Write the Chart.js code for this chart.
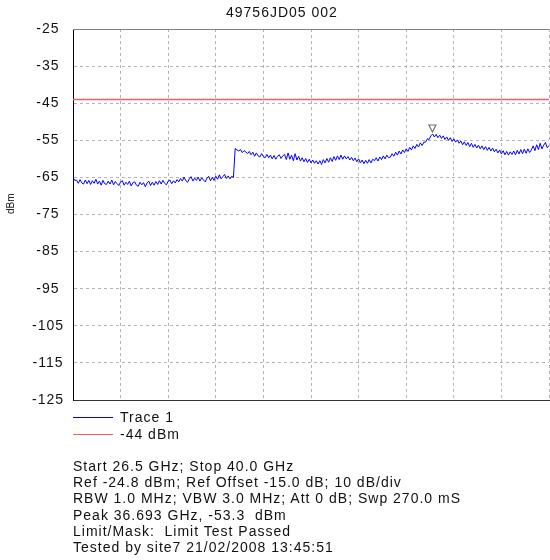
<!DOCTYPE html>
<html>
<head>
<meta charset="utf-8">
<script src="https://cdn.jsdelivr.net/npm/chart.js@4"></script>
<style>
  body { margin: 0; background: #fff; }
  .wrap { position: relative; width: 550px; height: 560px; font-family: "Liberation Sans", Arial, sans-serif; color: #111; }
  canvas { position: absolute; left: 0; top: 0; }
  .txt { position: absolute; font-size: 14px; letter-spacing: 1px; line-height: 16px; white-space: nowrap; }
  .title { left: 226px; top: 4px; }
  .ylab { left: 5px; font-size: 10px; letter-spacing: 0; transform: rotate(-90deg); transform-origin: left top; position: absolute; }
  .leg { position: absolute; left: 73px; width: 40px; height: 1px; }
  .info { left: 73px; top: 458px; line-height: 16.2px; }
</style>
</head>
<body>
<div class="wrap">
  <canvas id="chart" width="550" height="560"></canvas>
  <div class="txt title">49756JD05 002</div>
  <div class="ylab" style="top:214px">dBm</div>
  <div class="leg" style="top:417px;background:#0000ff"></div>
  <div class="txt" style="left:120px;top:409px">Trace 1</div>
  <div class="leg" style="top:434px;background:#f06060"></div>
  <div class="txt" style="left:120px;top:426px">-44 dBm</div>
  <div class="txt info">
    Start 26.5 GHz; Stop 40.0 GHz<br>
    Ref -24.8 dBm; Ref Offset -15.0 dB; 10 dB/div<br>
    RBW 1.0 MHz; VBW 3.0 MHz; Att 0 dB; Swp 270.0 mS<br>
    Peak 36.693 GHz, -53.3&nbsp; dBm<br>
    Limit/Mask:&nbsp; Limit Test Passed<br>
    Tested by site7 21/02/2008 13:45:51
  </div>
</div>
<script>
// sweep settings (GHz)
const startFreq = 26.5;
const stopFreq = 40.0;

// trace 1 readings, dBm, one every 0.05 GHz
const trace1 = [
  -65.0,-65.8,-65.7,-66.6,-65.6,-66.5,-66.8,-65.7,-66.7,-65.8,-66.9,-65.9,-66.6,-65.5,-66.8,-66.0,-67.1,-65.8,-66.7,-66.9,
  -66.0,-66.8,-65.7,-67.0,-66.1,-66.7,-67.2,-66.2,-65.9,-67.1,-66.3,-66.9,-66.0,-67.3,-66.4,-66.2,-67.1,-67.4,-66.3,-67.0,
  -66.4,-67.5,-66.5,-66.0,-67.2,-66.3,-67.1,-66.1,-66.9,-65.9,-66.8,-65.8,-66.6,-67.0,-66.0,-65.7,-66.7,-65.9,-66.5,-65.6,
  -66.2,-65.3,-66.0,-64.9,-65.9,-66.3,-65.4,-64.8,-66.0,-65.2,-65.8,-64.9,-66.0,-65.1,-65.7,-66.2,-65.2,-64.7,-65.9,-65.0,
  -65.8,-64.7,-65.5,-64.3,-65.4,-64.8,-64.2,-65.3,-64.6,-65.4,-64.7,-65.0,-57.2,-57.6,-57.9,-57.5,-58.3,-57.8,-58.1,-58.6,
  -58.0,-58.9,-58.2,-59.3,-58.4,-59.2,-59.5,-58.6,-59.4,-59.7,-58.8,-59.7,-59.0,-60.0,-59.1,-60.1,-59.3,-58.9,-59.9,-59.2,
  -58.8,-60.2,-58.4,-60.1,-59.0,-60.5,-58.6,-60.3,-59.3,-60.6,-59.7,-60.8,-59.9,-61.0,-60.1,-61.1,-60.3,-61.2,-60.5,-61.4,
  -60.5,-61.5,-60.2,-61.1,-59.9,-60.9,-59.7,-60.7,-59.4,-60.4,-59.2,-60.2,-59.0,-60.1,-59.2,-60.0,-59.4,-60.3,-59.6,-60.5,
  -59.8,-60.8,-60.0,-61.1,-60.3,-61.3,-60.4,-61.2,-60.2,-61.1,-60.1,-60.5,-59.7,-60.6,-59.5,-60.2,-59.2,-60.0,-59.0,-59.7,
  -59.5,-58.6,-59.3,-58.2,-59.0,-57.9,-58.7,-57.6,-58.3,-57.3,-58.0,-56.9,-57.6,-56.5,-57.2,-56.1,-56.8,-55.7,-56.4,-55.5,
  -55.5,-54.6,-54.8,-53.8,-53.3,-54.1,-53.4,-54.3,-53.6,-54.5,-53.8,-54.8,-54.1,-55.0,-54.3,-55.3,-54.6,-55.5,-54.9,-55.8,
  -55.2,-56.2,-55.4,-56.4,-55.6,-56.7,-55.8,-56.9,-56.1,-57.1,-56.3,-57.3,-56.5,-57.5,-56.7,-57.7,-56.9,-57.9,-57.1,-58.1,
  -57.4,-58.4,-57.6,-58.7,-57.8,-58.9,-58.0,-59.0,-58.1,-58.8,-57.9,-58.9,-57.7,-58.7,-57.5,-58.6,-57.4,-58.5,-57.3,-58.3,
  -57.6,-56.5,-57.8,-56.2,-57.5,-55.8,-57.3,-56.3,-55.6,-57.0,-56.4
];

// limit line and peak marker
const limitLevel = -44;
const peakFreq = 36.693;
const peakLevel = -53.3;

// y axis
const yMin = -125;
const yMax = -25;
const yStep = 10;

const freqStep = (stopFreq - startFreq) / (trace1.length - 1);
const tracePoints = trace1.map((v, i) => ({ x: startFreq + i * freqStep, y: v }));

const framePlugin = {
  id: 'frame',
  beforeDraw(chart) {
    chart.ctx.letterSpacing = '1px';
  },
  afterDraw(chart) {
    const { ctx, chartArea: a, scales } = chart;
    ctx.save();
    ctx.strokeStyle = '#808080';
    ctx.lineWidth = 1;
    ctx.beginPath();
    ctx.moveTo(a.left, a.top + 0.5);
    ctx.lineTo(a.right, a.top + 0.5);
    ctx.stroke();
    // peak marker
    const px = scales.x.getPixelForValue(peakFreq);
    const py = scales.y.getPixelForValue(peakLevel);
    ctx.strokeStyle = '#707070';
    ctx.fillStyle = '#fff';
    ctx.lineWidth = 1.2;
    ctx.beginPath();
    ctx.moveTo(px - 3.5, py - 9);
    ctx.lineTo(px + 3.5, py - 9);
    ctx.lineTo(px, py - 2);
    ctx.closePath();
    ctx.fill();
    ctx.stroke();
    ctx.restore();
  }
};

new Chart(document.getElementById('chart'), {
  type: 'line',
  data: {
    datasets: [
      {
        label: 'Trace 1',
        data: tracePoints,
        borderColor: '#0000ff',
        borderWidth: 1,
        pointRadius: 0,
        tension: 0
      },
      {
        label: '-44 dBm',
        data: [{ x: startFreq, y: limitLevel }, { x: stopFreq, y: limitLevel }],
        borderColor: '#f06060',
        borderWidth: 1.5,
        pointRadius: 0
      }
    ]
  },
  options: {
    responsive: false,
    animation: false,
    devicePixelRatio: 1,
    layout: { padding: { top: 29, bottom: 160, left: 0, right: 1 } },
    plugins: { legend: { display: false }, title: { display: false }, tooltip: { enabled: false } },
    scales: {
      x: {
        type: 'linear',
        min: startFreq,
        max: stopFreq,
        afterBuildTicks(s) {
          s.ticks = Array.from({ length: 11 }, (_, i) => ({ value: startFreq + i * (stopFreq - startFreq) / 10 }));
        },
        afterFit(s) { s.height = 0; },
        ticks: { display: false },
        grid: { color: '#b4b4b4', drawTicks: false },
        border: { color: '#333', width: 1, dash: [3, 3] }
      },
      y: {
        min: yMin,
        max: yMax,
        afterFit(s) { s.width = 73; },
        ticks: {
          stepSize: yStep,
          padding: 11,
          crossAlign: 'center',
          color: '#111',
          font: { family: '"Liberation Sans", Arial, sans-serif', size: 14 }
        },
        grid: { color: '#b4b4b4', drawTicks: false },
        border: { color: '#000', width: 1, dash: [3, 3] }
      }
    }
  },
  plugins: [framePlugin]
});
</script>
</body>
</html>
